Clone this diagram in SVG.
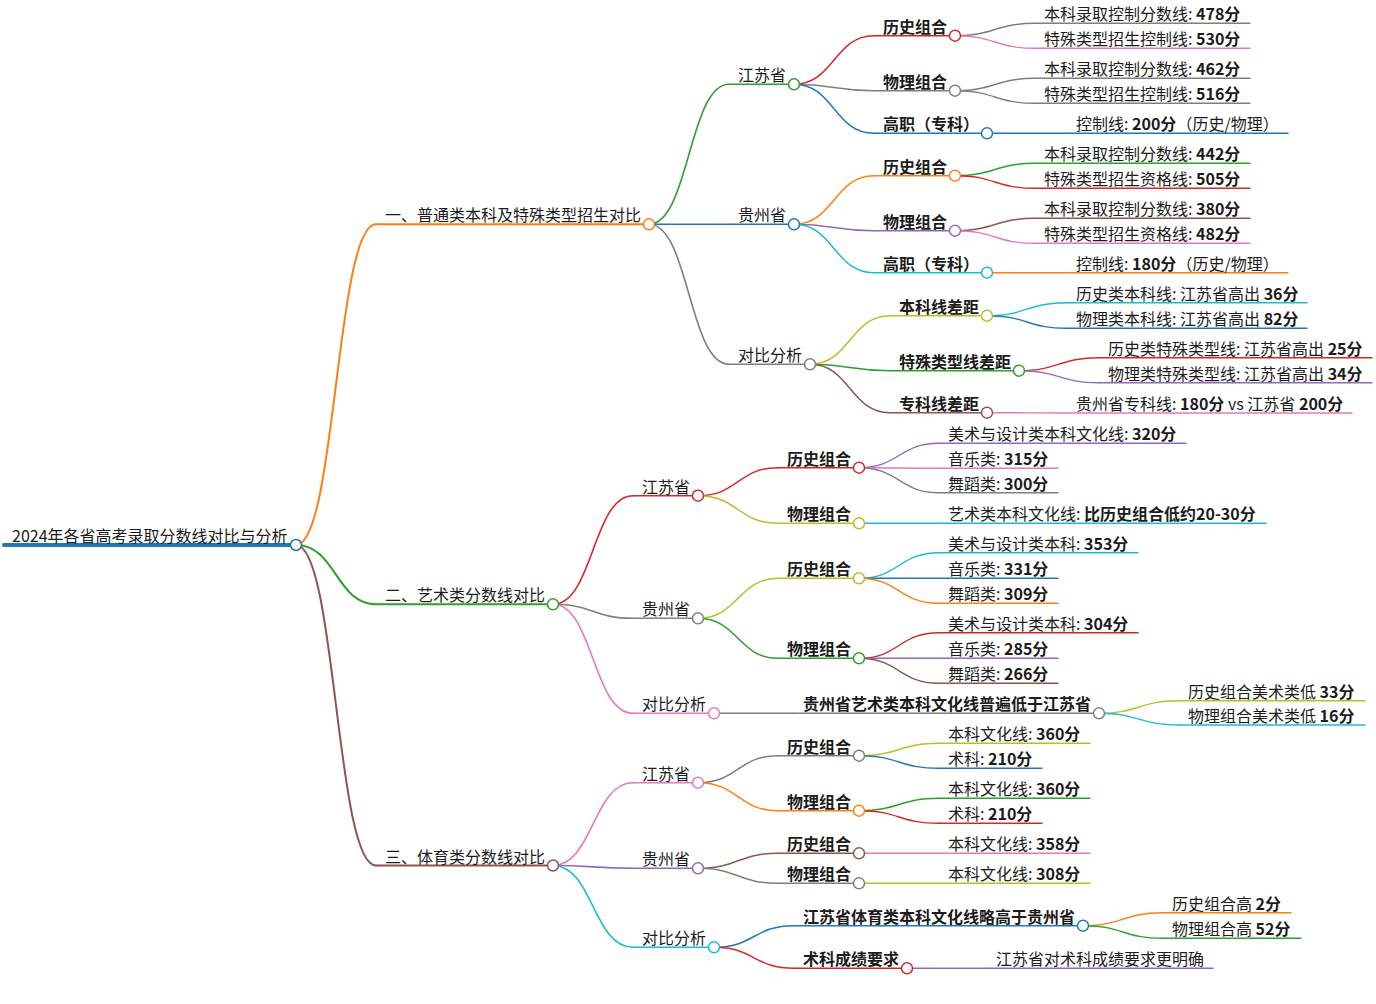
<svg xmlns="http://www.w3.org/2000/svg" width="1376" height="1004" viewBox="0 0 1376 1004">
<style>
text{font-family:"Noto Sans CJK SC","Noto Sans",sans-serif;font-size:16px;fill:#1c1c1c;transform:translate(0px,1px)}
.b{font-weight:bold}
line,path{fill:none;stroke-linecap:round}
circle{fill:#fff;stroke-width:1.5}
.d0{stroke-width:4}.d1{stroke-width:2}.d2{stroke-width:1.6}.d3{stroke-width:1.5}.d4{stroke-width:1.4}
.cb{stroke:#1f77b4}.co{stroke:#ff7f0e}.cg{stroke:#2ca02c}.cr{stroke:#d62728}.cp{stroke:#9467bd}
.cn{stroke:#8c564b}.ck{stroke:#e377c2}.cy{stroke:#7f7f7f}.cl{stroke:#bcbd22}.cc{stroke:#17becf}
</style>
<rect width="1376" height="1004" fill="#fff"/>
<g id="connectors">
<path class="d1 co" d="M296,545 C336,545 336,224.3 376,224.3"/>
<path class="d1 cg" d="M296,545 C336,545 336,604.3 376,604.3"/>
<path class="d1 cn" d="M296,545 C336,545 336,865.5 376,865.5"/>
<path class="d2 cg" d="M649,224.3 C689,224.3 689,84.3 729,84.3"/>
<path class="d2 cb" d="M649,224.3 C689,224.3 689,224.3 729,224.3"/>
<path class="d2 cy" d="M649,224.3 C689,224.3 689,364.3 729,364.3"/>
<path class="d3 cr" d="M794,84.3 C834,84.3 834,35.7 874,35.7"/>
<path class="d3 cy" d="M794,84.3 C834,84.3 834,90.7 874,90.7"/>
<path class="d3 cb" d="M794,84.3 C834,84.3 834,133.3 874,133.3"/>
<path class="d4 cy" d="M955,35.7 C995,35.7 995,23.3 1035,23.3"/>
<path class="d4 ck" d="M955,35.7 C995,35.7 995,48.3 1035,48.3"/>
<path class="d4 cy" d="M955,90.7 C995,90.7 995,78.3 1035,78.3"/>
<path class="d4 cy" d="M955,90.7 C995,90.7 995,103.3 1035,103.3"/>
<path class="d4 cb" d="M987,133.3 C1027,133.3 1027,133.3 1067,133.3"/>
<path class="d3 co" d="M794,224.3 C834,224.3 834,175.7 874,175.7"/>
<path class="d3 cp" d="M794,224.3 C834,224.3 834,230.7 874,230.7"/>
<path class="d3 cc" d="M794,224.3 C834,224.3 834,272.7 874,272.7"/>
<path class="d4 cg" d="M955,175.7 C995,175.7 995,163.3 1035,163.3"/>
<path class="d4 cr" d="M955,175.7 C995,175.7 995,188.3 1035,188.3"/>
<path class="d4 cn" d="M955,230.7 C995,230.7 995,218.3 1035,218.3"/>
<path class="d4 ck" d="M955,230.7 C995,230.7 995,243.3 1035,243.3"/>
<path class="d4 co" d="M987,272.7 C1027,272.7 1027,272.7 1067,272.7"/>
<path class="d3 cl" d="M810,364.3 C850,364.3 850,315.7 890,315.7"/>
<path class="d3 cg" d="M810,364.3 C850,364.3 850,370.7 890,370.7"/>
<path class="d3 cn" d="M810,364.3 C850,364.3 850,412.7 890,412.7"/>
<path class="d4 cc" d="M987,315.7 C1027,315.7 1027,302.7 1067,302.7"/>
<path class="d4 cb" d="M987,315.7 C1027,315.7 1027,328.3 1067,328.3"/>
<path class="d4 cr" d="M1019,370.7 C1059,370.7 1059,357.7 1099,357.7"/>
<path class="d4 cp" d="M1019,370.7 C1059,370.7 1059,382.7 1099,382.7"/>
<path class="d4 ck" d="M987,412.7 C1027,412.7 1027,413 1067,413"/>
<path class="d2 cr" d="M553,604.3 C593,604.3 593,495.7 633,495.7"/>
<path class="d2 cy" d="M553,604.3 C593,604.3 593,618.3 633,618.3"/>
<path class="d2 ck" d="M553,604.3 C593,604.3 593,713.3 633,713.3"/>
<path class="d3 cr" d="M698,495.7 C738,495.7 738,467.7 778,467.7"/>
<path class="d3 cl" d="M698,495.7 C738,495.7 738,523.3 778,523.3"/>
<path class="d4 cp" d="M859,467.7 C899,467.7 899,443.3 939,443.3"/>
<path class="d4 ck" d="M859,467.7 C899,467.7 899,468.3 939,468.3"/>
<path class="d4 cy" d="M859,467.7 C899,467.7 899,492.7 939,492.7"/>
<path class="d4 cc" d="M859,523.3 C899,523.3 899,523.3 939,523.3"/>
<path class="d3 cl" d="M698,618.3 C738,618.3 738,578.3 778,578.3"/>
<path class="d3 cg" d="M698,618.3 C738,618.3 738,658.3 778,658.3"/>
<path class="d4 cc" d="M859,578.3 C899,578.3 899,552.7 939,552.7"/>
<path class="d4 cb" d="M859,578.3 C899,578.3 899,578.3 939,578.3"/>
<path class="d4 co" d="M859,578.3 C899,578.3 899,603.3 939,603.3"/>
<path class="d4 cr" d="M859,658.3 C899,658.3 899,632.7 939,632.7"/>
<path class="d4 cp" d="M859,658.3 C899,658.3 899,658.3 939,658.3"/>
<path class="d4 cn" d="M859,658.3 C899,658.3 899,683.3 939,683.3"/>
<path class="d3 cy" d="M714,713.3 C754,713.3 754,713.3 794,713.3"/>
<path class="d4 cl" d="M1099,713.3 C1139,713.3 1139,700.7 1179,700.7"/>
<path class="d4 cc" d="M1099,713.3 C1139,713.3 1139,725 1179,725"/>
<path class="d2 ck" d="M553,865.5 C593,865.5 593,782.7 633,782.7"/>
<path class="d2 cp" d="M553,865.5 C593,865.5 593,868.3 633,868.3"/>
<path class="d2 cc" d="M553,865.5 C593,865.5 593,947.3 633,947.3"/>
<path class="d3 cy" d="M698,782.7 C738,782.7 738,755.7 778,755.7"/>
<path class="d3 co" d="M698,782.7 C738,782.7 738,810.7 778,810.7"/>
<path class="d4 cl" d="M859,755.7 C899,755.7 899,743.3 939,743.3"/>
<path class="d4 cb" d="M859,755.7 C899,755.7 899,768.3 939,768.3"/>
<path class="d4 cg" d="M859,810.7 C899,810.7 899,798.3 939,798.3"/>
<path class="d4 cr" d="M859,810.7 C899,810.7 899,823.3 939,823.3"/>
<path class="d3 cn" d="M698,868.3 C738,868.3 738,853.3 778,853.3"/>
<path class="d3 cy" d="M698,868.3 C738,868.3 738,883.3 778,883.3"/>
<path class="d4 ck" d="M859,853.3 C899,853.3 899,853.3 939,853.3"/>
<path class="d4 cl" d="M859,883.3 C899,883.3 899,883.3 939,883.3"/>
<path class="d3 cb" d="M714,947.3 C754,947.3 754,925.7 794,925.7"/>
<path class="d3 cr" d="M714,947.3 C754,947.3 754,968.3 794,968.3"/>
<path class="d4 co" d="M1083,925.7 C1123,925.7 1123,912.7 1163,912.7"/>
<path class="d4 cg" d="M1083,925.7 C1123,925.7 1123,938.3 1163,938.3"/>
<path class="d4 cp" d="M907,968.3 C947,968.3 947,968.3 987,968.3"/>
</g>

<g id="root"><line class="d0 cb" x1="4" y1="545" x2="296" y2="545"/><text x="12" y="541">2024年各省高考录取分数线对比与分析</text><circle class="cb" cx="296" cy="545" r="5.5"/></g>

<g id="n-a"><line class="d1 co" x1="376" y1="224.3" x2="649" y2="224.3"/><text x="385" y="220.3">一、普通类本科及特殊类型招生对比</text><circle class="co" cx="649" cy="224.3" r="5.5"/></g>
<g id="n-a1"><line class="d2 cg" x1="729" y1="84.3" x2="794" y2="84.3"/><text x="738" y="80.3">江苏省</text><circle class="cg" cx="794" cy="84.3" r="5.5"/></g>
<g id="n-a1a"><line class="d3 cr" x1="874" y1="35.7" x2="955" y2="35.7"/><text class="b" x="883" y="31.7">历史组合</text><circle class="cr" cx="955" cy="35.7" r="5.5"/></g>
<g id="n-a1a1"><line class="d4 cy" x1="1035" y1="23.3" x2="1250" y2="23.3"/><text x="1044" y="19.3">本科录取控制分数线: <tspan class="b">478分</tspan></text></g>
<g id="n-a1a2"><line class="d4 ck" x1="1035" y1="48.3" x2="1250" y2="48.3"/><text x="1044" y="44.3">特殊类型招生控制线: <tspan class="b">530分</tspan></text></g>
<g id="n-a1b"><line class="d3 cy" x1="874" y1="90.7" x2="955" y2="90.7"/><text class="b" x="883" y="86.7">物理组合</text><circle class="cy" cx="955" cy="90.7" r="5.5"/></g>
<g id="n-a1b1"><line class="d4 cy" x1="1035" y1="78.3" x2="1250" y2="78.3"/><text x="1044" y="74.3">本科录取控制分数线: <tspan class="b">462分</tspan></text></g>
<g id="n-a1b2"><line class="d4 cy" x1="1035" y1="103.3" x2="1250" y2="103.3"/><text x="1044" y="99.3">特殊类型招生控制线: <tspan class="b">516分</tspan></text></g>
<g id="n-a1c"><line class="d3 cb" x1="874" y1="133.3" x2="987" y2="133.3"/><text class="b" x="883" y="129.3">高职（专科）</text><circle class="cb" cx="987" cy="133.3" r="5.5"/></g>
<g id="n-a1c1"><line class="d4 cb" x1="1067" y1="133.3" x2="1288" y2="133.3"/><text x="1076" y="129.3">控制线: <tspan class="b">200分</tspan>（历史/物理）</text></g>

<g id="n-a2"><line class="d2 cb" x1="729" y1="224.3" x2="794" y2="224.3"/><text x="738" y="220.3">贵州省</text><circle class="cb" cx="794" cy="224.3" r="5.5"/></g>
<g id="n-a2a"><line class="d3 co" x1="874" y1="175.7" x2="955" y2="175.7"/><text class="b" x="883" y="171.7">历史组合</text><circle class="co" cx="955" cy="175.7" r="5.5"/></g>
<g id="n-a2a1"><line class="d4 cg" x1="1035" y1="163.3" x2="1250" y2="163.3"/><text x="1044" y="159.3">本科录取控制分数线: <tspan class="b">442分</tspan></text></g>
<g id="n-a2a2"><line class="d4 cr" x1="1035" y1="188.3" x2="1250" y2="188.3"/><text x="1044" y="184.3">特殊类型招生资格线: <tspan class="b">505分</tspan></text></g>
<g id="n-a2b"><line class="d3 cp" x1="874" y1="230.7" x2="955" y2="230.7"/><text class="b" x="883" y="226.7">物理组合</text><circle class="cp" cx="955" cy="230.7" r="5.5"/></g>
<g id="n-a2b1"><line class="d4 cn" x1="1035" y1="218.3" x2="1250" y2="218.3"/><text x="1044" y="214.3">本科录取控制分数线: <tspan class="b">380分</tspan></text></g>
<g id="n-a2b2"><line class="d4 ck" x1="1035" y1="243.3" x2="1250" y2="243.3"/><text x="1044" y="239.3">特殊类型招生资格线: <tspan class="b">482分</tspan></text></g>
<g id="n-a2c"><line class="d3 cc" x1="874" y1="272.7" x2="987" y2="272.7"/><text class="b" x="883" y="268.7">高职（专科）</text><circle class="cc" cx="987" cy="272.7" r="5.5"/></g>
<g id="n-a2c1"><line class="d4 co" x1="1067" y1="272.7" x2="1288" y2="272.7"/><text x="1076" y="268.7">控制线: <tspan class="b">180分</tspan>（历史/物理）</text></g>

<g id="n-a3"><line class="d2 cy" x1="729" y1="364.3" x2="810" y2="364.3"/><text x="738" y="360.3">对比分析</text><circle class="cy" cx="810" cy="364.3" r="5.5"/></g>
<g id="n-a3a"><line class="d3 cl" x1="890" y1="315.7" x2="987" y2="315.7"/><text class="b" x="899" y="311.7">本科线差距</text><circle class="cl" cx="987" cy="315.7" r="5.5"/></g>
<g id="n-a3a1"><line class="d4 cc" x1="1067" y1="302.7" x2="1307" y2="302.7"/><text x="1076" y="298.7">历史类本科线: 江苏省高出 <tspan class="b">36分</tspan></text></g>
<g id="n-a3a2"><line class="d4 cb" x1="1067" y1="328.3" x2="1307" y2="328.3"/><text x="1076" y="324.3">物理类本科线: 江苏省高出 <tspan class="b">82分</tspan></text></g>
<g id="n-a3b"><line class="d3 cg" x1="890" y1="370.7" x2="1019" y2="370.7"/><text class="b" x="899" y="366.7">特殊类型线差距</text><circle class="cg" cx="1019" cy="370.7" r="5.5"/></g>
<g id="n-a3b1"><line class="d4 cr" x1="1099" y1="357.7" x2="1372" y2="357.7"/><text x="1108" y="353.7">历史类特殊类型线: 江苏省高出 <tspan class="b">25分</tspan></text></g>
<g id="n-a3b2"><line class="d4 cp" x1="1099" y1="382.7" x2="1372" y2="382.7"/><text x="1108" y="378.7">物理类特殊类型线: 江苏省高出 <tspan class="b">34分</tspan></text></g>
<g id="n-a3c"><line class="d3 cn" x1="890" y1="412.7" x2="987" y2="412.7"/><text class="b" x="899" y="408.7">专科线差距</text><circle class="cn" cx="987" cy="412.7" r="5.5"/></g>
<g id="n-a3c1"><line class="d4 ck" x1="1067" y1="413" x2="1352" y2="413"/><text x="1076" y="409">贵州省专科线: <tspan class="b">180分</tspan> vs 江苏省 <tspan class="b">200分</tspan></text></g>

<g id="n-b"><line class="d1 cg" x1="376" y1="604.3" x2="553" y2="604.3"/><text x="385" y="600.3">二、艺术类分数线对比</text><circle class="cg" cx="553" cy="604.3" r="5.5"/></g>
<g id="n-b1"><line class="d2 cr" x1="633" y1="495.7" x2="698" y2="495.7"/><text x="642" y="491.7">江苏省</text><circle class="cr" cx="698" cy="495.7" r="5.5"/></g>
<g id="n-b1a"><line class="d3 cr" x1="778" y1="467.7" x2="859" y2="467.7"/><text class="b" x="787" y="463.7">历史组合</text><circle class="cr" cx="859" cy="467.7" r="5.5"/></g>
<g id="n-b1a1"><line class="d4 cp" x1="939" y1="443.3" x2="1186" y2="443.3"/><text x="948" y="439.3">美术与设计类本科文化线: <tspan class="b">320分</tspan></text></g>
<g id="n-b1a2"><line class="d4 ck" x1="939" y1="468.3" x2="1058" y2="468.3"/><text x="948" y="464.3">音乐类: <tspan class="b">315分</tspan></text></g>
<g id="n-b1a3"><line class="d4 cy" x1="939" y1="492.7" x2="1058" y2="492.7"/><text x="948" y="488.7">舞蹈类: <tspan class="b">300分</tspan></text></g>
<g id="n-b1b"><line class="d3 cl" x1="778" y1="523.3" x2="859" y2="523.3"/><text class="b" x="787" y="519.3">物理组合</text><circle class="cl" cx="859" cy="523.3" r="5.5"/></g>
<g id="n-b1b1"><line class="d4 cc" x1="939" y1="523.3" x2="1266" y2="523.3"/><text x="948" y="519.3">艺术类本科文化线: <tspan class="b">比历史组合低约20-30分</tspan></text></g>
<g id="n-b2"><line class="d2 cy" x1="633" y1="618.3" x2="698" y2="618.3"/><text x="642" y="614.3">贵州省</text><circle class="cy" cx="698" cy="618.3" r="5.5"/></g>
<g id="n-b2a"><line class="d3 cl" x1="778" y1="578.3" x2="859" y2="578.3"/><text class="b" x="787" y="574.3">历史组合</text><circle class="cl" cx="859" cy="578.3" r="5.5"/></g>
<g id="n-b2a1"><line class="d4 cc" x1="939" y1="552.7" x2="1138" y2="552.7"/><text x="948" y="548.7">美术与设计类本科: <tspan class="b">353分</tspan></text></g>
<g id="n-b2a2"><line class="d4 cb" x1="939" y1="578.3" x2="1058" y2="578.3"/><text x="948" y="574.3">音乐类: <tspan class="b">331分</tspan></text></g>
<g id="n-b2a3"><line class="d4 co" x1="939" y1="603.3" x2="1058" y2="603.3"/><text x="948" y="599.3">舞蹈类: <tspan class="b">309分</tspan></text></g>
<g id="n-b2b"><line class="d3 cg" x1="778" y1="658.3" x2="859" y2="658.3"/><text class="b" x="787" y="654.3">物理组合</text><circle class="cg" cx="859" cy="658.3" r="5.5"/></g>
<g id="n-b2b1"><line class="d4 cr" x1="939" y1="632.7" x2="1138" y2="632.7"/><text x="948" y="628.7">美术与设计类本科: <tspan class="b">304分</tspan></text></g>
<g id="n-b2b2"><line class="d4 cp" x1="939" y1="658.3" x2="1058" y2="658.3"/><text x="948" y="654.3">音乐类: <tspan class="b">285分</tspan></text></g>
<g id="n-b2b3"><line class="d4 cn" x1="939" y1="683.3" x2="1058" y2="683.3"/><text x="948" y="679.3">舞蹈类: <tspan class="b">266分</tspan></text></g>
<g id="n-b3"><line class="d2 ck" x1="633" y1="713.3" x2="714" y2="713.3"/><text x="642" y="709.3">对比分析</text><circle class="ck" cx="714" cy="713.3" r="5.5"/></g>
<g id="n-b3a"><line class="d3 cy" x1="794" y1="713.3" x2="1099" y2="713.3"/><text class="b" x="803" y="709.3">贵州省艺术类本科文化线普遍低于江苏省</text><circle class="cy" cx="1099" cy="713.3" r="5.5"/></g>
<g id="n-b3a1"><line class="d4 cl" x1="1179" y1="700.7" x2="1365" y2="700.7"/><text x="1188" y="696.7">历史组合美术类低 <tspan class="b">33分</tspan></text></g>
<g id="n-b3a2"><line class="d4 cc" x1="1179" y1="725" x2="1365" y2="725"/><text x="1188" y="721">物理组合美术类低 <tspan class="b">16分</tspan></text></g>

<g id="n-c"><line class="d1 cn" x1="376" y1="865.5" x2="553" y2="865.5"/><text x="385" y="861.5">三、体育类分数线对比</text><circle class="cn" cx="553" cy="865.5" r="5.5"/></g>
<g id="n-c1"><line class="d2 ck" x1="633" y1="782.7" x2="698" y2="782.7"/><text x="642" y="778.7">江苏省</text><circle class="ck" cx="698" cy="782.7" r="5.5"/></g>
<g id="n-c1a"><line class="d3 cy" x1="778" y1="755.7" x2="859" y2="755.7"/><text class="b" x="787" y="751.7">历史组合</text><circle class="cy" cx="859" cy="755.7" r="5.5"/></g>
<g id="n-c1a1"><line class="d4 cl" x1="939" y1="743.3" x2="1090" y2="743.3"/><text x="948" y="739.3">本科文化线: <tspan class="b">360分</tspan></text></g>
<g id="n-c1a2"><line class="d4 cb" x1="939" y1="768.3" x2="1042" y2="768.3"/><text x="948" y="764.3">术科: <tspan class="b">210分</tspan></text></g>
<g id="n-c1b"><line class="d3 co" x1="778" y1="810.7" x2="859" y2="810.7"/><text class="b" x="787" y="806.7">物理组合</text><circle class="co" cx="859" cy="810.7" r="5.5"/></g>
<g id="n-c1b1"><line class="d4 cg" x1="939" y1="798.3" x2="1090" y2="798.3"/><text x="948" y="794.3">本科文化线: <tspan class="b">360分</tspan></text></g>
<g id="n-c1b2"><line class="d4 cr" x1="939" y1="823.3" x2="1042" y2="823.3"/><text x="948" y="819.3">术科: <tspan class="b">210分</tspan></text></g>
<g id="n-c2"><line class="d2 cp" x1="633" y1="868.3" x2="698" y2="868.3"/><text x="642" y="864.3">贵州省</text><circle class="cp" cx="698" cy="868.3" r="5.5"/></g>
<g id="n-c2a"><line class="d3 cn" x1="778" y1="853.3" x2="859" y2="853.3"/><text class="b" x="787" y="849.3">历史组合</text><circle class="cn" cx="859" cy="853.3" r="5.5"/></g>
<g id="n-c2a1"><line class="d4 ck" x1="939" y1="853.3" x2="1090" y2="853.3"/><text x="948" y="849.3">本科文化线: <tspan class="b">358分</tspan></text></g>
<g id="n-c2b"><line class="d3 cy" x1="778" y1="883.3" x2="859" y2="883.3"/><text class="b" x="787" y="879.3">物理组合</text><circle class="cy" cx="859" cy="883.3" r="5.5"/></g>
<g id="n-c2b1"><line class="d4 cl" x1="939" y1="883.3" x2="1090" y2="883.3"/><text x="948" y="879.3">本科文化线: <tspan class="b">308分</tspan></text></g>
<g id="n-c3"><line class="d2 cc" x1="633" y1="947.3" x2="714" y2="947.3"/><text x="642" y="943.3">对比分析</text><circle class="cc" cx="714" cy="947.3" r="5.5"/></g>
<g id="n-c3a"><line class="d3 cb" x1="794" y1="925.7" x2="1083" y2="925.7"/><text class="b" x="803" y="921.7">江苏省体育类本科文化线略高于贵州省</text><circle class="cb" cx="1083" cy="925.7" r="5.5"/></g>
<g id="n-c3a1"><line class="d4 co" x1="1163" y1="912.7" x2="1291" y2="912.7"/><text x="1172" y="908.7">历史组合高 <tspan class="b">2分</tspan></text></g>
<g id="n-c3a2"><line class="d4 cg" x1="1163" y1="938.3" x2="1301" y2="938.3"/><text x="1172" y="934.3">物理组合高 <tspan class="b">52分</tspan></text></g>
<g id="n-c3b"><line class="d3 cr" x1="794" y1="968.3" x2="907" y2="968.3"/><text class="b" x="803" y="964.3">术科成绩要求</text><circle class="cr" cx="907" cy="968.3" r="5.5"/></g>
<g id="n-c3b1"><line class="d4 cp" x1="987" y1="968.3" x2="1213" y2="968.3"/><text x="996" y="964.3">江苏省对术科成绩要求更明确</text></g>
</svg>
